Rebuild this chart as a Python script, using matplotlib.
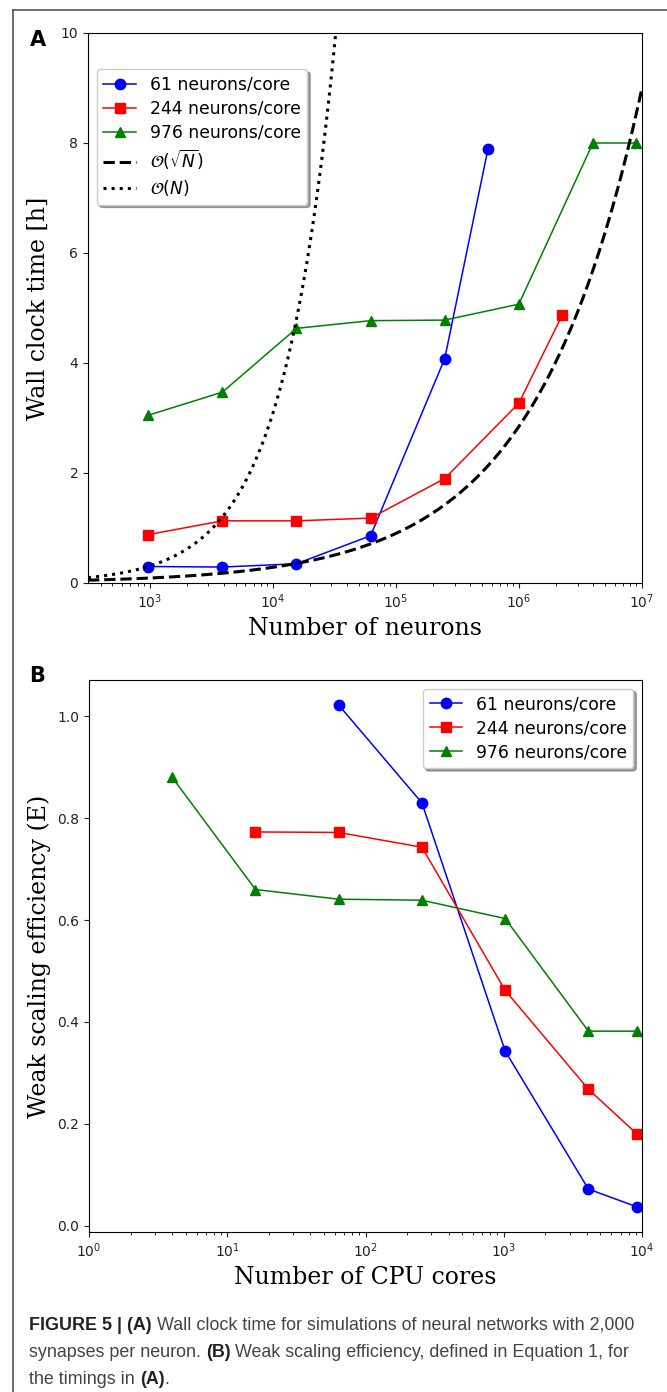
import numpy as np
import matplotlib
matplotlib.use('Agg')
import matplotlib.pyplot as plt
from matplotlib.lines import Line2D

# panel A: wall clock time [h] vs number of neurons
neurons_61 = [976, 3904, 15616, 62464, 249856, 562176]
time_61 = [0.30, 0.29, 0.35, 0.86, 4.08, 7.90]
neurons_244 = [976, 3904, 15616, 62464, 249856, 999424, 2248704]
time_244 = [0.88, 1.13, 1.13, 1.18, 1.90, 3.27, 4.87]
neurons_976 = [976, 3904, 15616, 62464, 249856, 999424, 3997696, 8994816]
time_976 = [3.05, 3.47, 4.63, 4.77, 4.78, 5.07, 8.00, 8.00]

# reference scaling curves (coefficients)
sqrt_coef = 9.0 / np.sqrt(1e7)
lin_coef = 0.30 / 976

# panel B: weak scaling efficiency vs number of cores
cores_61 = [64, 256, 1024, 4096, 9216]
eff_61 = [1.022, 0.830, 0.343, 0.072, 0.037]
cores_244 = [16, 64, 256, 1024, 4096, 9216]
eff_244 = [0.773, 0.772, 0.743, 0.462, 0.268, 0.180]
cores_976 = [4, 16, 64, 256, 1024, 4096, 9216]
eff_976 = [0.880, 0.660, 0.641, 0.639, 0.603, 0.382, 0.382]

labels = ['61 neurons/core', '244 neurons/core', '976 neurons/core']

W, H = 667, 1392
fig = plt.figure(figsize=(W / 100, H / 100), dpi=100)

def ax_rect(l, t, r, b):
    return [l / W, 1 - b / H, (r - l) / W, (b - t) / H]

label_font = dict(family='DejaVu Serif', fontsize=17)

# ---- panel A
axA = fig.add_axes(ax_rect(88, 33, 642, 583))
axA.plot(neurons_61, time_61, 'b-o', lw=1.1, ms=7.5, label=labels[0])
axA.plot(neurons_244, time_244, 'r-s', lw=1.1, ms=7.5, label=labels[1])
axA.plot(neurons_976, time_976, 'g-^', lw=1.1, ms=7.5, label=labels[2])
n_theory = np.logspace(2.5, 7, 300)
axA.plot(n_theory, sqrt_coef * np.sqrt(n_theory), 'k--', lw=2.2,
         label=r'$\mathcal{O}(\sqrt{N})$')
axA.plot(n_theory, lin_coef * n_theory, 'k:', lw=2.2,
         label=r'$\mathcal{O}(N)$')
axA.set_xscale('log')
axA.set_xlim(10 ** 2.5, 1e7)
axA.set_ylim(0, 10)
axA.set_xlabel('Number of neurons', **label_font)
axA.set_ylabel('Wall clock time [h]', **label_font)
axA.legend(loc='upper left', bbox_to_anchor=(0.0, 0.95), fontsize=12.3,
           shadow=True, handlelength=1.9, labelspacing=0.35)

# ---- panel B
axB = fig.add_axes(ax_rect(89, 680, 642, 1232))
axB.plot(cores_61, eff_61, 'b-o', lw=1.1, ms=7.5, label=labels[0])
axB.plot(cores_244, eff_244, 'r-s', lw=1.1, ms=7.5, label=labels[1])
axB.plot(cores_976, eff_976, 'g-^', lw=1.1, ms=7.5, label=labels[2])
axB.set_xscale('log')
axB.set_xlim(1, 1e4)
axB.set_xlabel('Number of CPU cores', **label_font)
axB.set_ylabel('Weak scaling efficiency (E)', **label_font)
axB.legend(loc='upper right', fontsize=12.3, shadow=True,
           handlelength=1.9, labelspacing=0.35)

for ax in (axA, axB):
    ax.tick_params(labelsize=10, colors='#222222')
    ax.yaxis.set_label_coords(-0.068, 0.5)

fig.text(30 / W, 1 - 40 / H, 'A', fontsize=15, fontweight='bold', va='center')
fig.text(29 / W, 1 - 676 / H, 'B', fontsize=15, fontweight='bold', va='center')

# frame lines around the figure
fig.add_artist(Line2D([13 / W, 13 / W], [0, 1 - 10 / H], transform=fig.transFigure,
                      color='#555555', lw=1.2))
fig.add_artist(Line2D([13 / W, 1], [1 - 10 / H, 1 - 10 / H], transform=fig.transFigure,
                      color='#555555', lw=1.2))

# caption with mixed bold / regular pieces
caption = [
    [('FIGURE 5 | (A)', 'bold'), (' Wall clock time for simulations of neural networks with 2,000', 'normal')],
    [('synapses per neuron. ', 'normal'), ('(B)', 'bold'), (' Weak scaling efficiency, defined in Equation 1, for', 'normal')],
    [('the timings in ', 'normal'), ('(A)', 'bold'), ('.', 'normal')],
]
renderer = fig.canvas.get_renderer()
y = 1330
for line in caption:
    x = 29
    for txt, weight in line:
        t = fig.text(x / W, 1 - y / H, txt, fontsize=12.9, fontweight=weight,
                     family='Liberation Sans',
                     color='#222222' if weight == 'bold' else '#444444',
                     va='baseline', ha='left')
        x += t.get_window_extent(renderer).width
    y += 27

fig.savefig('out.png', dpi=100)
